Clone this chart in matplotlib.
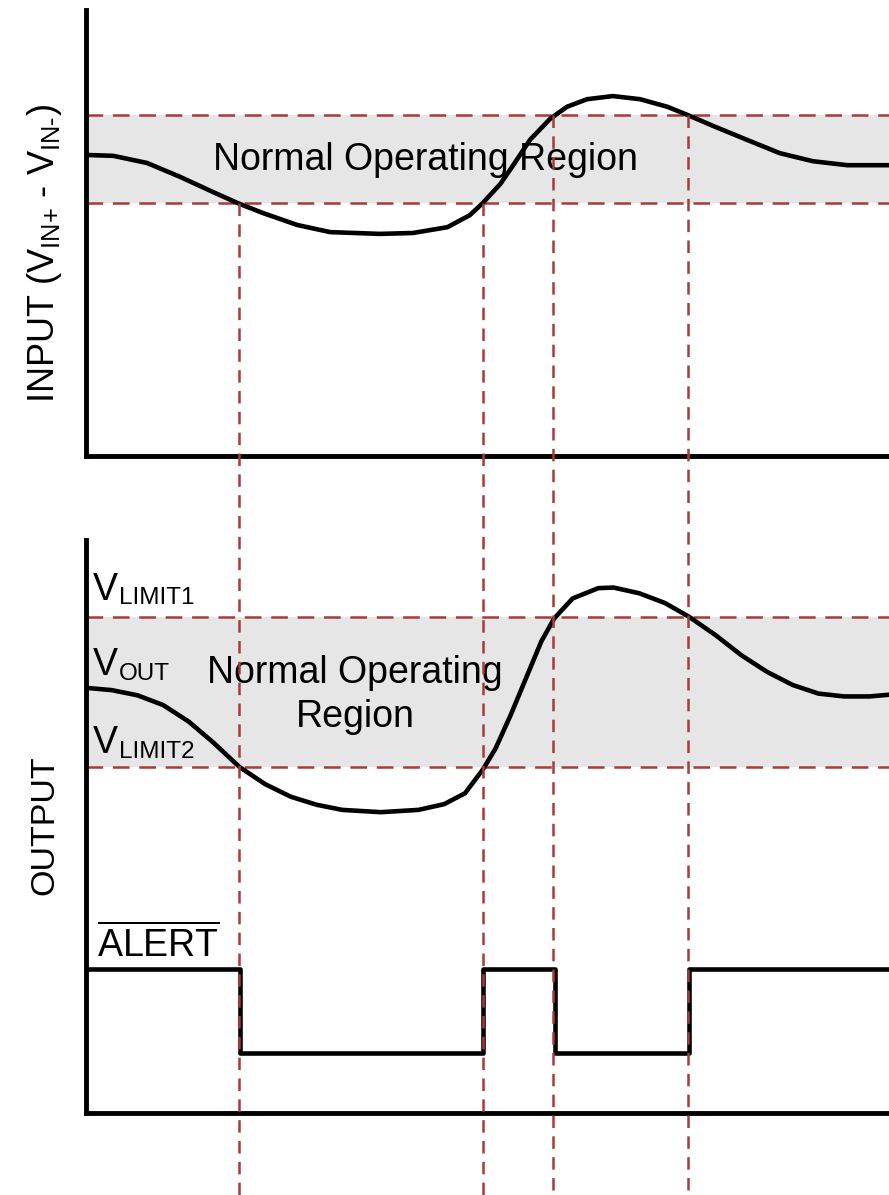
from matplotlib import pyplot as plt

plt.rcParams['font.family'] = ['Liberation Sans', 'DejaVu Sans']
plt.rcParams['mathtext.fontset'] = 'custom'
plt.rcParams['mathtext.rm'] = 'Liberation Sans'
plt.rcParams['mathtext.it'] = 'Liberation Sans'
plt.rcParams['mathtext.bf'] = 'Liberation Sans:bold'
plt.rcParams['lines.scale_dashes'] = False

# time in % of the shown window, levels in % of the panel height
t_in = [0, 3.4, 7.6, 11.7, 15.8, 18.9, 22.0, 26.3, 30.4, 36.6, 40.7, 45.0,
        47.8, 49.4, 51.6, 53.2, 55.3, 57.8, 59.9, 62.4, 65.6, 69.0, 72.4,
        75.0, 78.1, 82.3, 86.4, 90.5, 94.8, 100]
v_in = [67.5, 67.3, 65.7, 62.6, 59.2, 56.7, 54.5, 51.8, 50.2, 49.8, 50.0, 51.3,
        54.0, 56.7, 61.0, 65.2, 70.9, 75.6, 78.3, 80.0, 80.7, 80.0, 78.3,
        76.4, 74.0, 70.9, 67.9, 66.1, 65.2, 65.2]
in_limit_hi = 76.5
in_limit_lo = 56.7

t_out = [0, 3.2, 6.4, 9.6, 12.8, 15.9, 19.1, 22.3, 25.5, 28.7, 31.9, 36.7,
         41.4, 44.6, 47.2, 49.4, 51.0, 52.9, 54.8, 56.7, 58.3, 60.6, 63.8,
         65.7, 68.9, 72.1, 75.1, 78.4, 81.6, 84.8, 88.0, 91.2, 94.4, 97.6, 100]
v_out = [74.2, 73.8, 72.9, 71.2, 68.3, 64.6, 60.4, 57.4, 55.2, 53.8, 52.9, 52.5,
         52.9, 53.9, 55.8, 59.9, 63.6, 69.5, 75.9, 82.3, 86.3, 89.8, 91.6,
         91.7, 90.7, 89.0, 86.6, 83.4, 79.9, 77.0, 74.7, 73.2, 72.7, 72.7, 73.0]
out_limit1 = 86.6
out_limit2 = 60.4

# ALERT pin (active low)
alert_t = [0, 19.2, 49.5, 58.4, 75.1, 100]
alert_hi = 25.1
alert_lo = 10.5
alert_v = [alert_hi, alert_lo, alert_hi, alert_lo, alert_hi, alert_hi]

# threshold crossings -> markers that run down through both panels
cross_t = [19.0, 49.4, 58.2, 75.0]
cross_v = [in_limit_lo, in_limit_lo, in_limit_hi, in_limit_hi]

RED = '#a63b3b'
SHADE = '#e6e6e6'
W, H = 889, 1195

fig = plt.figure(figsize=(W / 100, H / 100), dpi=100)
ax_in = fig.add_axes([86 / W, 1 - 456 / H, 803 / W, 446 / H])
ax_out = fig.add_axes([86 / W, 1 - 1113 / H, 803 / W, 573 / H])
ax_in.set_zorder(2)
ax_out.set_zorder(1)

for ax in (ax_in, ax_out):
    ax.set_xlim(0, 100)
    ax.set_ylim(0, 100)
    ax.patch.set_visible(False)
    ax.spines['top'].set_visible(False)
    ax.spines['right'].set_visible(False)
    ax.spines['left'].set_linewidth(3.5)
    ax.spines['bottom'].set_linewidth(3.5)
    ax.set_xticks([])
    ax.set_yticks([])


def v_label(ax, x, y, sub):
    # big "V" with a smaller, slightly dropped subscript
    v = ax.text(x, y, 'V', fontsize=27, va='baseline')
    ax.annotate(sub, xy=(1, 0), xycoords=v, xytext=(0.5, -1), textcoords='offset points',
                fontsize=17.5, va='bottom', ha='left')


# input panel
ax_in.axhspan(in_limit_lo, in_limit_hi, color=SHADE, lw=0, zorder=0)
for lvl in (in_limit_lo, in_limit_hi):
    ax_in.axhline(lvl, color=RED, lw=1.8, dashes=(12, 7), zorder=1)
ax_in.plot(t_in, v_in, color='black', lw=3.3, solid_joinstyle='round', zorder=3)
ax_in.text(42.3, 64.1, 'Normal Operating Region', fontsize=27, ha='center', va='baseline', zorder=2)

# output panel
ax_out.axhspan(out_limit2, out_limit1, color=SHADE, lw=0, zorder=0)
for lvl in (out_limit2, out_limit1):
    ax_out.axhline(lvl, color=RED, lw=1.8, dashes=(12, 7), zorder=1)
ax_out.plot(t_out, v_out, color='black', lw=3.3, solid_joinstyle='round', zorder=3)
ax_out.step(alert_t, alert_v, where='post', color='black', lw=3.3, zorder=3)
ax_out.text(33.5, 67.4, 'Normal Operating\nRegion', fontsize=27, ha='center', va='baseline',
            linespacing=1.27, zorder=2)
v_label(ax_out, 0.9, 89.6, 'LIMIT1')
v_label(ax_out, 0.9, 76.4, 'OUT')
v_label(ax_out, 0.9, 62.8, 'LIMIT2')
ax_out.text(1.4, 27.2, r'$\overline{\mathrm{ALERT}}$', fontsize=27, va='baseline')

# vertical markers from the input crossing down to the figure bottom
ybot = ax_in.transData.inverted().transform(fig.transFigure.transform((0, 0)))[1]
for t, v in zip(cross_t, cross_v):
    ax_in.plot([t, t], [v, ybot], color=RED, lw=1.8, dashes=(9, 6), clip_on=False, zorder=4)

fig.text(45 / W, 1 - 253 / H, r'INPUT (V$_{\text{IN+}}$ - V$_{\text{IN-}}$)', fontsize=26,
         rotation=90, ha='center', va='center')
fig.text(45 / W, 1 - 825 / H, 'OUTPUT', fontsize=24.5, rotation=90, ha='center', va='center')

fig.savefig('out.png', dpi=100)
